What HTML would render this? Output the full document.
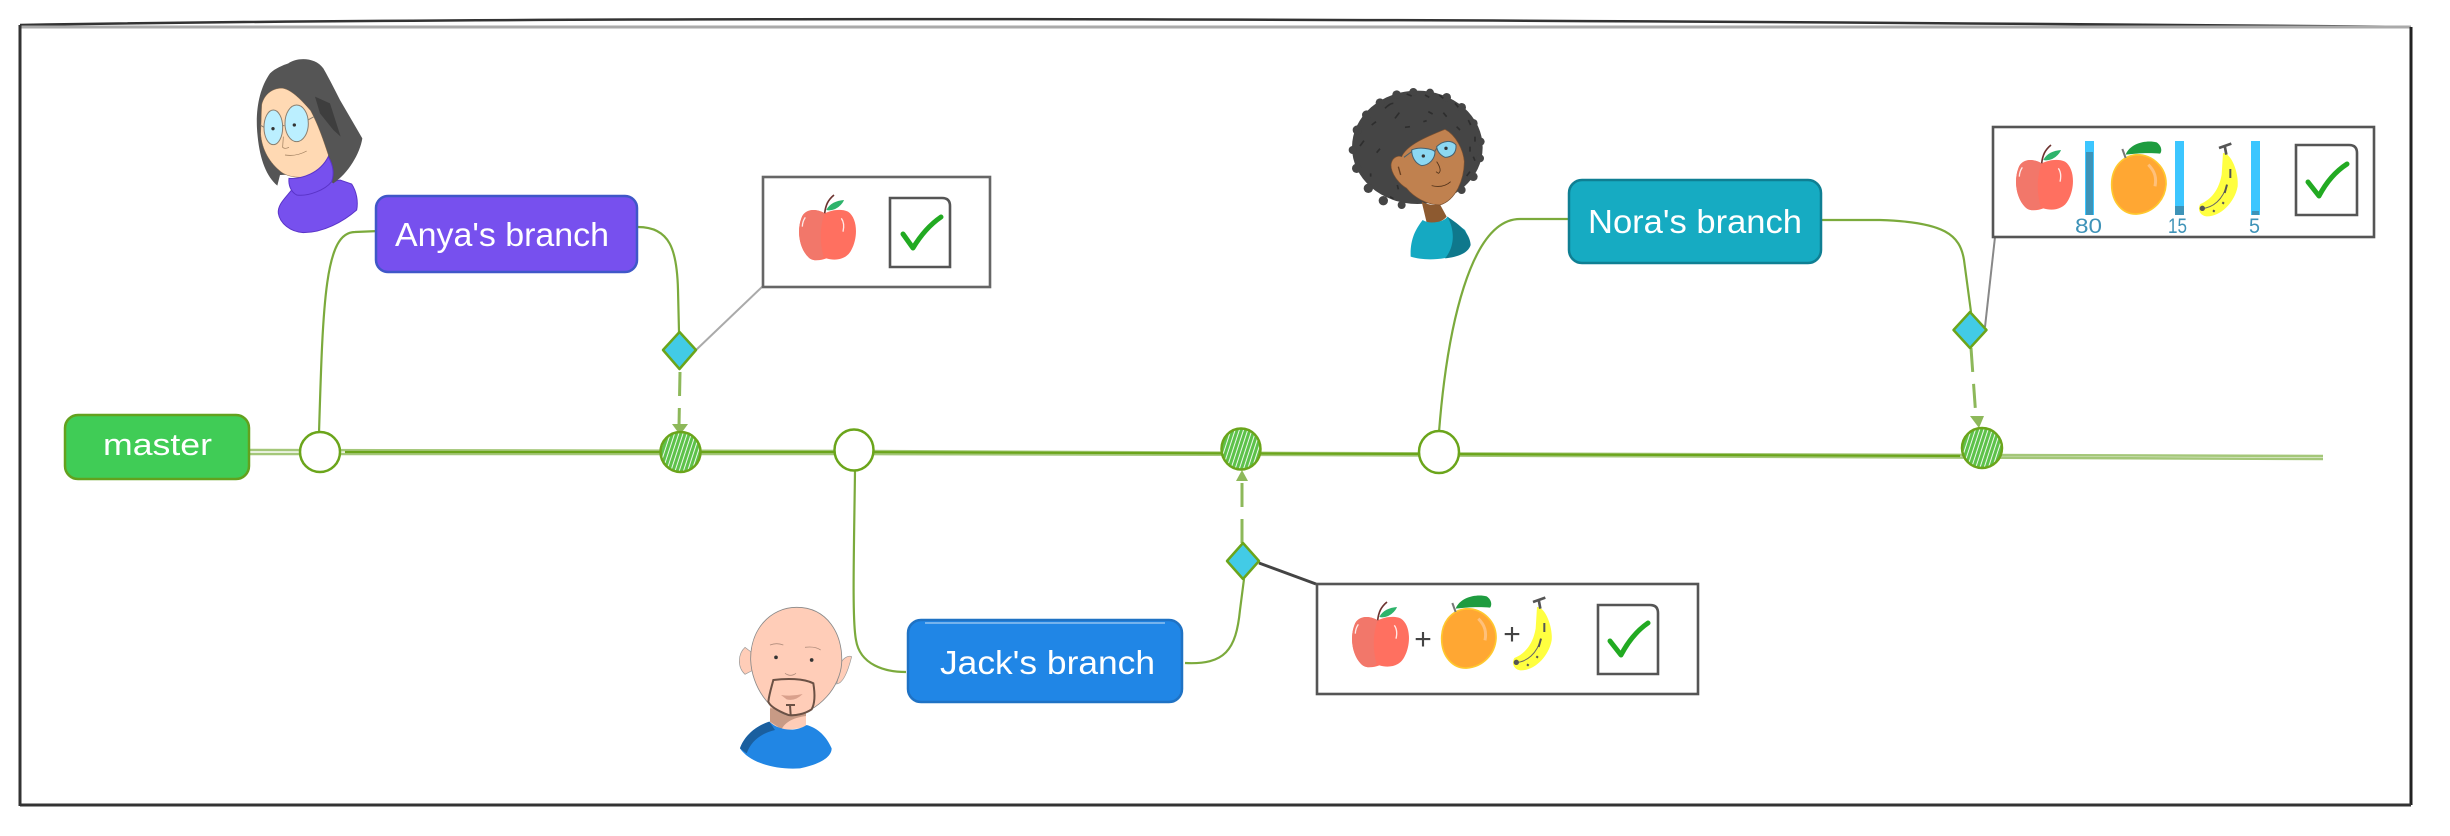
<!DOCTYPE html>
<html><head><meta charset="utf-8"><style>
html,body{margin:0;padding:0;background:#fff;width:2450px;height:836px;overflow:hidden}
svg{display:block}
text{font-family:"Liberation Sans",sans-serif}
.br{fill:#fff;font-size:33px}
.num{fill:#3F93B8;font-size:21px}
.con{fill:none;stroke:#7BAA3C;stroke-width:2.2}
.dash{fill:none;stroke:#8DB85A;stroke-width:3;stroke-dasharray:24 12}
.card{fill:#fff;stroke-width:2.6}
.chk{fill:none;stroke:#22AA22;stroke-width:5;stroke-linecap:round;stroke-linejoin:round}
</style></head><body>
<svg width="2450" height="836" viewBox="0 0 2450 836" xmlns="http://www.w3.org/2000/svg">
<defs>
<pattern id="h" width="4" height="4" patternUnits="userSpaceOnUse" patternTransform="rotate(18)">
<rect width="4" height="4" fill="#fff"/><rect width="3.1" height="4" fill="#5DC24A"/>
</pattern>
<g id="apple"><g transform="scale(.3333) translate(-108,-105)">
<path d="M185 160C160 145 125 145 115 175C100 215 110 270 140 295C155 305 175 300 190 295C215 303 250 300 265 270C285 235 285 175 255 155C235 145 205 150 185 160Z" fill="#FF7060"/>
<path d="M185 160C160 145 125 145 115 175C100 215 110 270 140 295C155 305 175 300 182 290C170 250 170 200 185 160Z" fill="#F2776A"/>
<path d="M127 172Q118 185 118 200M235 175Q246 190 240 215" stroke="#fff" stroke-width="4" fill="none" opacity=".85"/>
<path d="M185 160C188 135 195 120 213 105" stroke="#6D3330" stroke-width="5" fill="none"/>
<path d="M190 150C200 130 220 122 243 120C235 140 210 155 190 150Z" fill="#2DB36B"/>
</g></g>
<g id="orange"><g transform="scale(.3333) translate(-393,-97)">
<path d="M395 225C395 180 420 140 470 135C520 135 560 175 558 225C555 270 520 310 470 313C430 315 395 280 395 225Z" fill="#FFA733" stroke="#FFC82E" stroke-width="5"/>
<path d="M505 165C525 185 530 205 525 230" stroke="#FFC07A" stroke-width="9" fill="none"/>
<path d="M427 118L437 145" stroke="#777" stroke-width="6"/>
<path d="M437 135C450 100 500 90 530 98C548 110 545 128 540 132C500 128 465 132 437 135Z" fill="#1E9C3F"/>
</g></g>
<g id="banana"><g transform="scale(.3333) translate(-658,-100)">
<path d="M730 130C755 130 778 190 774 230C765 280 720 322 680 320C662 318 652 300 662 283C695 270 718 240 726 195Z" fill="#FFFF40"/>
<path d="M718 115L755 102M735 108L740 135" stroke="#555" stroke-width="8" fill="none"/>
<path d="M752 178V205" stroke="#555" stroke-width="6"/>
<path d="M665 297C700 295 730 270 742 225" stroke="#666" stroke-width="3" fill="none"/>
<path d="M742 225L735 250M700 302L705 306M728 278L733 282" stroke="#555" stroke-width="6"/>
<circle cx="668" cy="296" r="8" fill="#555"/>
</g></g>
</defs>

<!-- outer frame -->
<g fill="none">
<path d="M20 25C500 17 1300 17 2411 27" stroke="#333" stroke-width="2.5"/>
<path d="M20 27H2411" stroke="#aaa" stroke-width="3"/>
<path d="M20 25V806" stroke="#333" stroke-width="3"/>
<path d="M2411 27V805" stroke="#222" stroke-width="3"/>
<path d="M20 805H2411" stroke="#333" stroke-width="3"/>
</g>

<!-- main line -->
<g fill="none">
<path d="M250 450L860 451L1300 453L2323 456" stroke="#A4C779" stroke-width="2.5"/>
<path d="M250 454L860 454L1300 455L2323 459" stroke="#A4C779" stroke-width="2.5"/>
<path d="M345 452L830 452L1420 454L1960 456" stroke="#6BA51B" stroke-width="2.2"/>
</g>

<!-- connectors -->
<path class="con" d="M319 433C323 300 325 232 355 232L379 231"/>
<path class="con" d="M638 227C670 227 677 250 678 290L679 332"/>
<path class="con" d="M855 471C854 550 852 620 856 640C860 665 885 672 906 672"/>
<path class="con" d="M1185 663C1225 665 1236 650 1240 610L1244 579"/>
<path class="con" d="M1439 432C1447 330 1470 219 1520 219L1570 219"/>
<path class="con" d="M1822 220L1880 220C1945 222 1960 235 1964 260L1971 312"/>
<path class="dash" d="M680 372L679 426"/>
<path d="M672 424H688L680 435Z" fill="#8DB85A"/>
<path class="dash" d="M1242 543L1242 480"/>
<path d="M1236 481H1248L1242 470Z" fill="#8DB85A"/>
<path class="dash" d="M1971 348L1976 418"/>
<path d="M1970 416H1984L1979 428Z" fill="#8DB85A"/>
<path d="M696 350L763 286" stroke="#aaa" stroke-width="2" fill="none"/>
<path d="M1985 327L1995 237" stroke="#888" stroke-width="2" fill="none"/>
<path d="M1259 563L1316 584" stroke="#444" stroke-width="3" fill="none"/>

<!-- master and branches -->
<rect x="65" y="415" width="184" height="64" rx="13" fill="#40CC56" stroke="#63A11E" stroke-width="2.5"/>
<text x="103" y="455" style="font-size:31px" fill="#fff" textLength="109" lengthAdjust="spacingAndGlyphs">master</text>

<rect x="376" y="196" width="261" height="76" rx="12" fill="#7750EE" stroke="#3F57C8" stroke-width="2.5"/>
<text class="br" x="395" y="246" textLength="214" lengthAdjust="spacingAndGlyphs">Anya's branch</text>

<rect x="908" y="620" width="274" height="82" rx="13" fill="#2086E6" stroke="#1F72C4" stroke-width="2.5"/>
<path d="M925 623H1165" stroke="#8FC2F0" stroke-width="1.5" fill="none"/>
<text class="br" x="940" y="674" textLength="215" lengthAdjust="spacingAndGlyphs">Jack's branch</text>

<rect x="1569" y="180" width="252" height="83" rx="13" fill="#16ABC2" stroke="#0F7F93" stroke-width="2.5"/>
<text class="br" x="1588" y="233" textLength="214" lengthAdjust="spacingAndGlyphs">Nora's branch</text>

<!-- commit nodes -->
<g stroke="#6BA51B" stroke-width="2.5">
<ellipse cx="320" cy="452" rx="20" ry="20" fill="#fff"/>
<ellipse cx="680.5" cy="452" rx="20" ry="20" fill="url(#h)"/>
<ellipse cx="854" cy="450" rx="19.5" ry="20.5" fill="#fff"/>
<ellipse cx="1241" cy="449" rx="19.5" ry="20.5" fill="url(#h)"/>
<ellipse cx="1439" cy="452" rx="20" ry="21" fill="#fff"/>
<ellipse cx="1982" cy="448" rx="20" ry="20" fill="url(#h)"/>
</g>

<!-- diamonds -->
<g fill="#42CBE6" stroke="#6BA51B" stroke-width="2.5" stroke-linejoin="round">
<path d="M679.5 332L696 350L679.5 369L663 350Z"/>
<path d="M1243 543L1259 561L1243 579L1227 561Z"/>
<path d="M1970 312L1986.5 330L1970 348L1953.5 330Z"/>
</g>

<!-- Anya card -->
<rect class="card" x="763" y="177" width="227" height="110" stroke="#666"/>
<use href="#apple" x="799" y="195"/>
<path d="M890 198H942Q950 198 950 206V267H890Z" fill="#fff" stroke="#555" stroke-width="2.6"/>
<path class="chk" d="M903 234L913 248Q925 228 941 217"/>

<!-- Jack card -->
<rect class="card" x="1317" y="584" width="381" height="110" stroke="#555"/>
<use href="#apple" x="1352" y="602"/>
<text x="1423" y="649" font-size="30" fill="#444" text-anchor="middle">+</text>
<use href="#orange" x="1441" y="596"/>
<text x="1512" y="644" font-size="30" fill="#444" text-anchor="middle">+</text>
<use href="#banana" x="1513" y="597"/>
<path d="M1598 605H1650Q1658 605 1658 613V674H1598Z" fill="#fff" stroke="#555" stroke-width="2.6"/>
<path class="chk" d="M1610 641L1621 655Q1632 634 1648 623"/>

<!-- Nora card -->
<rect class="card" x="1993" y="127" width="381" height="110" stroke="#555"/>
<use href="#apple" x="2016" y="145"/>
<rect x="2085" y="141" width="9" height="74" fill="#3CC6FF"/>
<rect x="2086" y="152" width="7" height="63" fill="#3D93B8"/>
<text class="num" x="2075" y="233" textLength="27" lengthAdjust="spacingAndGlyphs">80</text>
<use href="#orange" x="2111" y="142"/>
<rect x="2175" y="141" width="9" height="74" fill="#3CC6FF"/>
<rect x="2175" y="206" width="9" height="9" fill="#3D93B8"/>
<text class="num" x="2168" y="233" textLength="19" lengthAdjust="spacingAndGlyphs">15</text>
<use href="#banana" x="2199" y="143"/>
<rect x="2251" y="141" width="9" height="74" fill="#3CC6FF"/>
<rect x="2252" y="211" width="7" height="4" fill="#3D93B8"/>
<text class="num" x="2249" y="233" textLength="11" lengthAdjust="spacingAndGlyphs">5</text>
<path d="M2296 145H2349Q2357 145 2357 153V215H2296Z" fill="#fff" stroke="#555" stroke-width="2.6"/>
<path class="chk" d="M2308 182L2319 196Q2330 175 2347 164"/>

<!-- Anya avatar -->
<g transform="translate(220,40) scale(.3333)">
<path d="M215 450C195 475 172 495 175 520C180 550 210 575 250 578C310 578 370 545 410 510C415 485 410 455 395 432L360 420Z" fill="#7750EE" stroke="#5A34C8" stroke-width="3"/>
<path d="M205 70C230 52 285 50 310 85C330 120 345 150 360 180L427 295C420 340 385 400 340 430L300 400L180 405L172 437C140 410 120 360 113 290C105 220 115 150 150 100C165 85 190 75 205 70Z" fill="#555"/>
<path d="M285 170L330 190L362 290L340 270L300 220Z" fill="#3E3E3E"/>
<path d="M125 195C130 170 150 148 178 145C205 140 240 175 272 212C295 255 310 300 325 345C325 370 295 400 270 408C245 414 210 414 185 397C150 370 125 330 122 280Z" fill="#FFD9B3" stroke="#8a6a4a" stroke-width="1.5"/>
<ellipse cx="160" cy="262" rx="28" ry="52" fill="#BBEFFF" stroke="#8a7f70" stroke-width="3"/>
<ellipse cx="230" cy="250" rx="35" ry="55" fill="#BBEFFF" stroke="#8a7f70" stroke-width="3"/>
<circle cx="159" cy="266" r="5" fill="#333"/><circle cx="223" cy="255" r="5" fill="#333"/>
<path d="M264 240L282 230M122 256L132 262M188 257H193" stroke="#8a7f70" stroke-width="3" fill="none"/>
<path d="M190 290L188 322Q195 328 207 322M195 345Q230 350 260 333" stroke="#9a7a5a" stroke-width="2" fill="none"/>
<path d="M207 415C245 418 300 400 325 350C342 380 342 405 335 425C315 450 265 470 230 465C212 455 205 435 207 415Z" fill="#7750EE" stroke="#5A34C8" stroke-width="3"/>
</g>

<!-- Nora avatar -->
<g transform="translate(1330,70) scale(.3333)">
<g fill="#454545">
<ellipse cx="262" cy="232" rx="196" ry="170"/>
<circle cx="250" cy="66" r="12"/><circle cx="200" cy="74" r="13"/><circle cx="150" cy="98" r="13"/><circle cx="110" cy="135" r="14"/><circle cx="82" cy="180" r="14"/><circle cx="68" cy="240" r="12"/><circle cx="80" cy="295" r="14"/><circle cx="115" cy="355" r="14"/><circle cx="160" cy="392" r="14"/><circle cx="215" cy="405" r="12"/><circle cx="300" cy="68" r="12"/><circle cx="350" cy="82" r="13"/><circle cx="395" cy="112" r="13"/><circle cx="430" cy="160" r="13"/><circle cx="452" cy="215" r="12"/><circle cx="450" cy="265" r="12"/><circle cx="430" cy="320" r="13"/><circle cx="395" cy="360" r="12"/>
</g>
<g stroke="#2E2E2E" stroke-width="5" fill="none">
<path d="M165 115Q180 100 190 100M230 72L245 78M285 75L298 82M328 75L340 85M195 145L208 128M125 165L138 155M90 228L102 212M140 248L150 236M375 100L385 112M415 150L422 165M435 200V215M420 230V245M430 260L435 272M420 305L410 318M122 310V320M202 345L205 358M180 380L190 386M295 125L308 132M340 128L350 140M225 172L240 170M280 155L290 152M380 170L390 180"/>
</g>
<path d="M275 395L290 458C305 465 335 458 350 440L330 403C310 408 290 403 275 395Z" fill="#8D5A30"/>
<path d="M215 260C230 225 290 200 345 178C378 195 400 240 403 275C402 330 378 390 330 405C290 405 250 380 230 355C205 340 183 310 183 285C185 265 200 255 215 260Z" fill="#C0814F" stroke="#7a5030" stroke-width="2"/>
<path d="M278 450C255 480 240 510 242 560C280 572 340 572 400 550C425 535 420 510 405 480L352 440C345 455 300 465 278 450Z" fill="#15A9C2"/>
<path d="M352 440C375 480 375 530 345 565C380 562 415 550 422 525C420 490 390 465 352 440Z" fill="#0F788C"/>
<path d="M245 240C265 230 305 235 315 245C315 265 300 285 275 287C255 280 245 260 245 240Z" fill="#8CD8F2" stroke="#46606E" stroke-width="3"/>
<path d="M320 230C340 210 365 210 378 225C380 250 365 262 345 262C330 255 322 245 320 230Z" fill="#8CD8F2" stroke="#46606E" stroke-width="3"/>
<path d="M315 243L320 235M245 245L222 262" stroke="#46606E" stroke-width="3" fill="none"/>
<circle cx="280" cy="258" r="5" fill="#333"/><circle cx="348" cy="235" r="5" fill="#333"/>
<path d="M320 275C330 290 335 305 325 310L318 305M305 347Q340 355 362 335" stroke="#4f3018" stroke-width="2.5" fill="none"/>
<path d="M205 290L212 315" stroke="#6a4020" stroke-width="4"/>
</g>

<!-- Jack avatar -->
<g transform="translate(720,590) scale(.3333)">
<path d="M75 172C55 190 50 230 75 253L100 240L92 185Z" fill="#FFCDB8" stroke="#999" stroke-width="2"/>
<path d="M395 200C385 195 370 205 365 215L350 282C370 280 385 240 395 200Z" fill="#FFCDB8" stroke="#999" stroke-width="2"/>
<path d="M150 350L150 398L185 422L258 412L258 350Z" fill="#FFCDB8"/>
<path d="M150 355L150 395L185 418C195 395 225 382 258 378L258 350Z" fill="#C89A85"/>
<path d="M230 52C320 52 370 130 365 220C360 290 300 365 215 378C150 370 95 290 92 210C90 120 150 52 230 52Z" fill="#FFCDB8" stroke="#888" stroke-width="2.5"/>
<circle cx="168" cy="202" r="5.5" fill="#333"/><circle cx="275" cy="210" r="5.5" fill="#333"/>
<path d="M150 165Q170 157 190 165M255 172Q285 168 302 180M195 250Q212 262 228 250" stroke="#B08C7C" stroke-width="2.5" fill="none"/>
<path d="M160 270C200 265 250 265 280 280C285 310 285 340 275 358C255 372 225 378 205 375C180 365 150 350 145 335C148 310 155 290 160 270Z" fill="none" stroke="#6B5145" stroke-width="6"/>
<path d="M198 345L225 345M210 345L212 375" stroke="#6B5145" stroke-width="6" fill="none"/>
<path d="M183 315Q215 320 248 312Q225 335 200 328Z" fill="#D9A08C"/>
<path d="M148 395C100 410 70 445 60 475C90 520 170 540 240 535C290 525 335 505 335 475C320 440 295 415 260 405C230 425 180 425 148 395Z" fill="#2186E4"/>
<path d="M148 395C100 410 70 445 60 475L80 490C95 450 125 430 165 420Z" fill="#1A5F9F"/>
</g>
</svg>
</body></html>
